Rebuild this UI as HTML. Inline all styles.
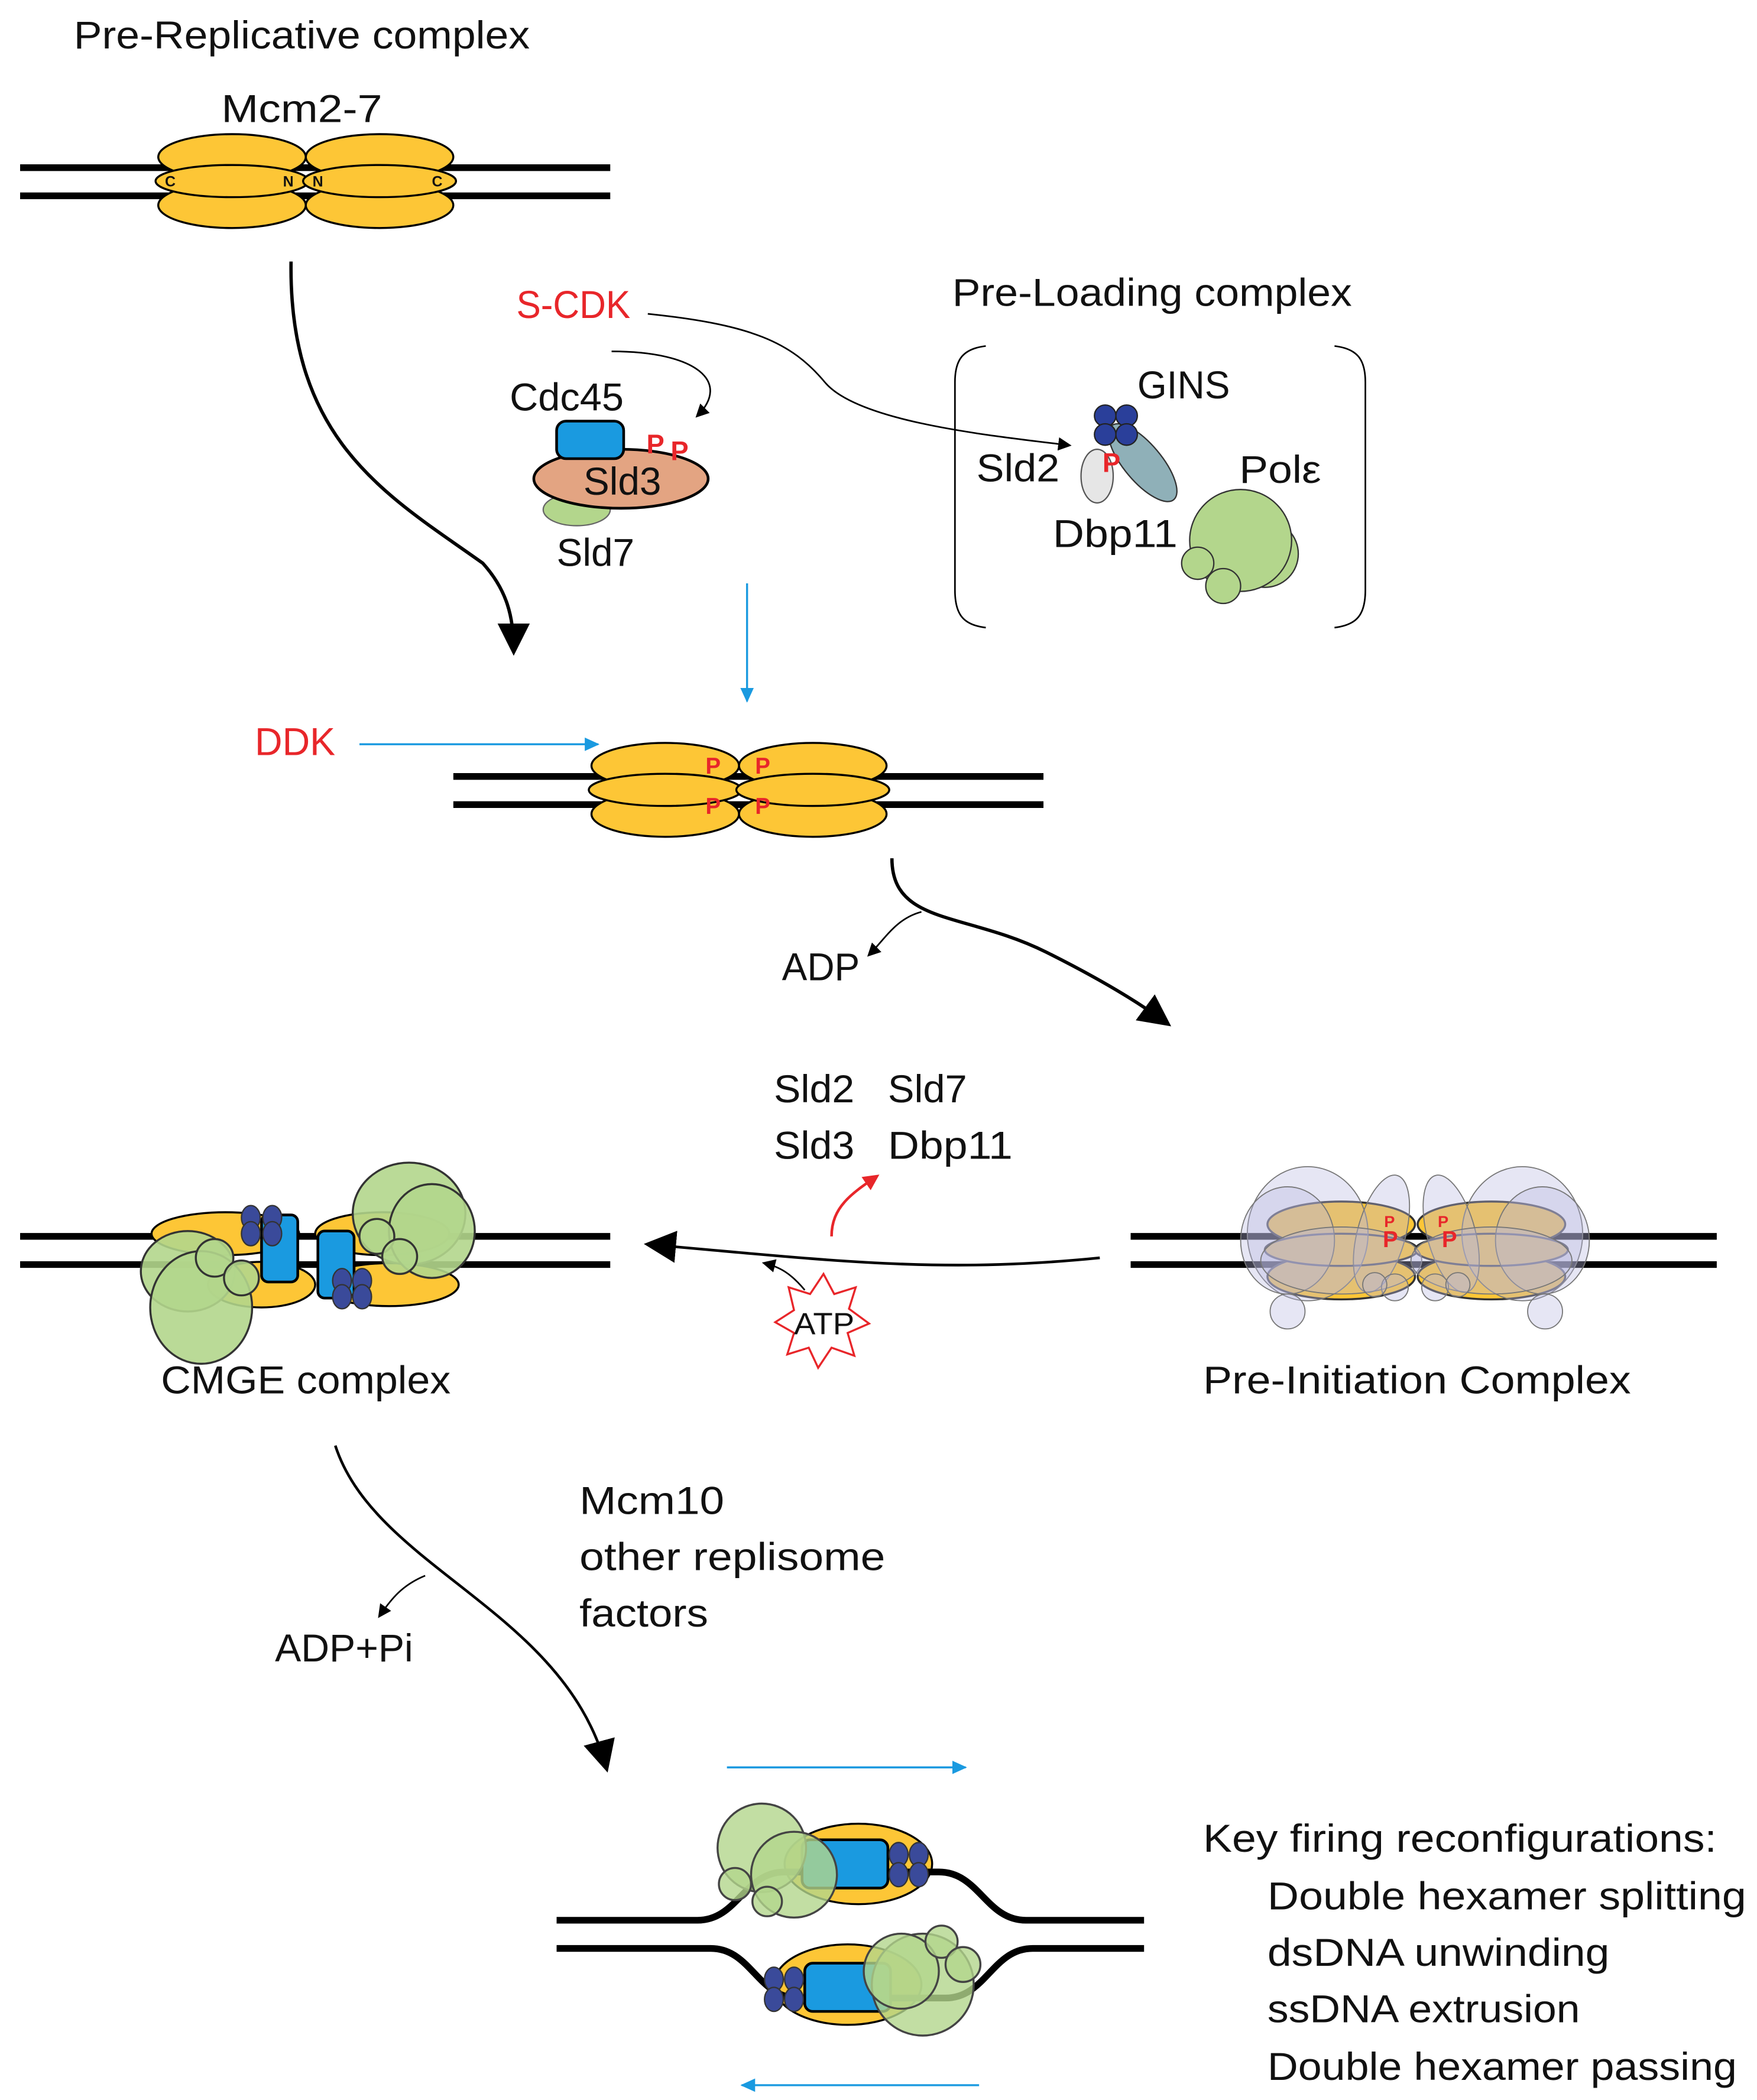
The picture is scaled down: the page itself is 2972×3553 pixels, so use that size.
<!DOCTYPE html>
<html><head><meta charset="utf-8"><style>
html,body{margin:0;padding:0;background:#fff;}
svg{display:block;}
text{font-family:"Liberation Sans",sans-serif;fill:#111;}
</style></head><body>
<svg width="2972" height="3553" viewBox="0 0 1310 1566" xmlns="http://www.w3.org/2000/svg">
<defs>
<marker id="ah" markerWidth="10" markerHeight="10" refX="8" refY="5" orient="auto" markerUnits="userSpaceOnUse"><path d="M0,0 L10,5 L0,10 z" fill="#000"/></marker>
<marker id="big" markerWidth="26" markerHeight="24" refX="20" refY="12" orient="auto" markerUnits="userSpaceOnUse"><path d="M0,0 L24,12 L0,24 z" fill="#000"/></marker>
<marker id="bl" markerWidth="12" markerHeight="12" refX="10" refY="6" orient="auto" markerUnits="userSpaceOnUse"><path d="M0,1 L11,6 L0,11 z" fill="#1a9ae0"/></marker>
<marker id="rd" markerWidth="14" markerHeight="14" refX="10" refY="7" orient="auto" markerUnits="userSpaceOnUse"><path d="M0,1 L12,7 L0,13 z" fill="#e8262a"/></marker>
</defs>
<g font-size="29">
<text x="55" y="36" textLength="340" lengthAdjust="spacingAndGlyphs">Pre-Replicative complex</text>
<text x="165" y="91" textLength="120" lengthAdjust="spacingAndGlyphs">Mcm2-7</text>
<text x="385" y="237" textLength="85" lengthAdjust="spacingAndGlyphs" style="fill:#e8262a">S-CDK</text>
<text x="710" y="228" textLength="298" lengthAdjust="spacingAndGlyphs">Pre-Loading complex</text>
<text x="848" y="297" textLength="69" lengthAdjust="spacingAndGlyphs">GINS</text>
<text x="380" y="306" textLength="85" lengthAdjust="spacingAndGlyphs">Cdc45</text>
<text x="728" y="359" textLength="62" lengthAdjust="spacingAndGlyphs">Sld2</text>
<text x="924" y="360" textLength="61" lengthAdjust="spacingAndGlyphs">Polε</text>
<text x="785" y="408" textLength="93" lengthAdjust="spacingAndGlyphs">Dbp11</text>
<text x="415" y="422" textLength="58" lengthAdjust="spacingAndGlyphs">Sld7</text>
<text x="190" y="563" textLength="60" lengthAdjust="spacingAndGlyphs" style="fill:#e8262a">DDK</text>
<text x="583" y="731" textLength="58" lengthAdjust="spacingAndGlyphs">ADP</text>
<text x="577" y="822" textLength="60" lengthAdjust="spacingAndGlyphs">Sld2</text><text x="662" y="822" textLength="59" lengthAdjust="spacingAndGlyphs">Sld7</text>
<text x="577" y="864" textLength="60" lengthAdjust="spacingAndGlyphs">Sld3</text><text x="662" y="864" textLength="93" lengthAdjust="spacingAndGlyphs">Dbp11</text>
<text x="120" y="1039" textLength="216" lengthAdjust="spacingAndGlyphs">CMGE complex</text>
<text x="897" y="1039" textLength="319" lengthAdjust="spacingAndGlyphs">Pre-Initiation Complex</text>
<text x="432" y="1129" textLength="108" lengthAdjust="spacingAndGlyphs">Mcm10</text>
<text x="432" y="1171" textLength="228" lengthAdjust="spacingAndGlyphs">other replisome</text>
<text x="432" y="1213" textLength="96" lengthAdjust="spacingAndGlyphs">factors</text>
<text x="205" y="1239" textLength="103" lengthAdjust="spacingAndGlyphs">ADP+Pi</text>
<text x="897" y="1381" textLength="383" lengthAdjust="spacingAndGlyphs">Key firing reconfigurations:</text>
<text x="945" y="1424" textLength="357" lengthAdjust="spacingAndGlyphs">Double hexamer splitting</text>
<text x="945" y="1466" textLength="255" lengthAdjust="spacingAndGlyphs">dsDNA unwinding</text>
<text x="945" y="1508" textLength="233" lengthAdjust="spacingAndGlyphs">ssDNA extrusion</text>
<text x="945" y="1551" textLength="350" lengthAdjust="spacingAndGlyphs">Double hexamer passing</text>
</g>

<g stroke="#000" stroke-width="5"><line x1="15" y1="125" x2="455" y2="125"/><line x1="15" y1="146" x2="455" y2="146"/></g>
<g fill="#fdc636" stroke="#000" stroke-width="1.5">
<ellipse cx="173" cy="117" rx="55" ry="17"/><ellipse cx="173" cy="153" rx="55" ry="17"/><ellipse cx="173" cy="135" rx="57" ry="12"/>
<ellipse cx="283" cy="117" rx="55" ry="17"/><ellipse cx="283" cy="153" rx="55" ry="17"/><ellipse cx="283" cy="135" rx="57" ry="12"/>
</g>
<g font-size="11" font-weight="bold"><text x="123" y="139">C</text><text x="211" y="139">N</text><text x="233" y="139">N</text><text x="322" y="139">C</text></g>

<path d="M217,195 C215,330 290,370 360,420 C378,440 383,460 383,485" fill="none" stroke="#000" stroke-width="2.5" marker-end="url(#big)"/>
<path d="M483,234 C560,242 590,255 615,285 C640,315 740,325 797,332" fill="none" stroke="#000" stroke-width="1.2" marker-end="url(#ah)"/>
<path d="M456,262 C520,262 545,285 520,310" fill="none" stroke="#000" stroke-width="1.2" marker-end="url(#ah)"/>

<ellipse cx="430" cy="380" rx="25" ry="12" fill="#b3d68c" stroke="#666" stroke-width="1"/>
<ellipse cx="463" cy="357" rx="65" ry="22" fill="#e3a482" stroke="#000" stroke-width="2"/>
<rect x="415" y="314" width="50" height="28" rx="7" fill="#1a9ae0" stroke="#000" stroke-width="2"/>
<text x="435" y="369" font-size="29" textLength="58" lengthAdjust="spacingAndGlyphs">Sld3</text>
<text x="482" y="338" font-size="20" font-weight="bold" style="fill:#e8262a">P</text>
<text x="500" y="343" font-size="20" font-weight="bold" style="fill:#e8262a">P</text>

<path d="M735,258 C718,260 712,268 712,285 L712,440 C712,458 718,466 735,468" fill="none" stroke="#000" stroke-width="1.2"/>
<path d="M995,258 C1012,260 1018,268 1018,285 L1018,440 C1018,458 1012,466 995,468" fill="none" stroke="#000" stroke-width="1.2"/>
<ellipse cx="818" cy="355" rx="12" ry="20" fill="#e6e6e6" stroke="#555"/>
<ellipse cx="852" cy="345" rx="14" ry="36" transform="rotate(-40 852 345)" fill="#8fb0b8" stroke="#333"/>
<g fill="#2a3f9a" stroke="#222"><circle cx="824" cy="310" r="8"/><circle cx="840" cy="310" r="8"/><circle cx="824" cy="324" r="8"/><circle cx="840" cy="324" r="8"/></g>
<text x="822" y="352" font-size="20" font-weight="bold" style="fill:#e8262a">P</text>
<g fill="#b3d68c" stroke="#333"><circle cx="943" cy="413" r="25"/><circle cx="925" cy="403" r="38"/><circle cx="893" cy="420" r="12"/><circle cx="912" cy="437" r="13"/></g>

<line x1="557" y1="435" x2="557" y2="523" stroke="#1a9ae0" stroke-width="1.5" marker-end="url(#bl)"/>
<line x1="268" y1="555" x2="446" y2="555" stroke="#1a9ae0" stroke-width="1.5" marker-end="url(#bl)"/>

<g stroke="#000" stroke-width="5"><line x1="338" y1="579" x2="778" y2="579"/><line x1="338" y1="600" x2="778" y2="600"/></g>
<g fill="#fdc636" stroke="#000" stroke-width="1.5">
<ellipse cx="496" cy="571" rx="55" ry="17"/><ellipse cx="496" cy="607" rx="55" ry="17"/><ellipse cx="496" cy="589" rx="57" ry="12"/>
<ellipse cx="606" cy="571" rx="55" ry="17"/><ellipse cx="606" cy="607" rx="55" ry="17"/><ellipse cx="606" cy="589" rx="57" ry="12"/>
</g>
<g font-size="17" font-weight="bold"><text x="526" y="577" style="fill:#e8262a">P</text><text x="563" y="577" style="fill:#e8262a">P</text><text x="526" y="607" style="fill:#e8262a">P</text><text x="563" y="607" style="fill:#e8262a">P</text></g>

<path d="M665,640 C665,690 720,680 780,710 C830,735 855,752 870,763" fill="none" stroke="#000" stroke-width="2.5" marker-end="url(#big)"/>
<path d="M687,680 C668,685 660,700 648,712" fill="none" stroke="#000" stroke-width="1.2" marker-end="url(#ah)"/>

<g stroke="#000" stroke-width="5"><line x1="843" y1="922" x2="1280" y2="922"/><line x1="843" y1="943" x2="1280" y2="943"/></g>
<g fill="#fdc636" stroke="#333" stroke-width="1.5">
<ellipse cx="1000" cy="913" rx="55" ry="17"/><ellipse cx="1000" cy="952" rx="55" ry="17"/><ellipse cx="1000" cy="932" rx="57" ry="12"/>
<ellipse cx="1112" cy="913" rx="55" ry="17"/><ellipse cx="1112" cy="952" rx="55" ry="17"/><ellipse cx="1112" cy="932" rx="57" ry="12"/>
</g>
<g fill="#b8b8e0" fill-opacity="0.35" stroke="#777" stroke-width="0.8">
<ellipse cx="975" cy="920" rx="45" ry="50"/><ellipse cx="1135" cy="920" rx="45" ry="50"/>
<ellipse cx="960" cy="925" rx="35" ry="40"/><ellipse cx="1150" cy="925" rx="35" ry="40"/>
<ellipse cx="1030" cy="920" rx="18" ry="45" transform="rotate(15 1030 920)"/><ellipse cx="1082" cy="920" rx="18" ry="45" transform="rotate(-15 1082 920)"/>
<ellipse cx="1000" cy="940" rx="60" ry="25"/><ellipse cx="1112" cy="940" rx="60" ry="25"/>
<circle cx="960" cy="978" r="13"/><circle cx="1152" cy="978" r="13"/>
<circle cx="1040" cy="960" r="10"/><circle cx="1070" cy="960" r="10"/><circle cx="1025" cy="958" r="9"/><circle cx="1087" cy="958" r="9"/>
</g>
<g font-size="17" font-weight="bold"><text x="1031" y="930" style="fill:#e8262a">P</text><text x="1075" y="930" style="fill:#e8262a">P</text><text x="1032" y="915" font-size="12" style="fill:#e8262a">P</text><text x="1072" y="915" font-size="12" style="fill:#e8262a">P</text></g>

<path d="M820,938 C700,950 620,940 484,928" fill="none" stroke="#000" stroke-width="2" marker-end="url(#big)"/>
<path d="M600,962 C590,950 582,945 570,942" fill="none" stroke="#000" stroke-width="1.2" marker-end="url(#ah)"/>
<path d="M620,922 C620,900 635,890 654,877" fill="none" stroke="#e8262a" stroke-width="2" marker-end="url(#rd)"/>
<polygon points="614,950 622,965 638,960 633,976 648,987 632,994 637,1011 620,1005 610,1020 603,1005 587,1010 592,994 578,986 592,977 588,960 604,965" fill="#fff" stroke="#e8262a" stroke-width="1.5"/>
<text x="592" y="995" font-size="23" textLength="45" lengthAdjust="spacingAndGlyphs">ATP</text>

<g stroke="#000" stroke-width="5"><line x1="15" y1="922" x2="455" y2="922"/><line x1="15" y1="943" x2="455" y2="943"/></g>
<g fill="#fdc636" stroke="#000" stroke-width="1.5">
<ellipse cx="168" cy="920" rx="55" ry="16"/><ellipse cx="195" cy="958" rx="40" ry="17"/>
<ellipse cx="285" cy="920" rx="50" ry="16"/><ellipse cx="290" cy="958" rx="52" ry="16"/>
</g>
<g fill="#b3d68c" fill-opacity="0.9" stroke="#333" stroke-width="1.5">
<ellipse cx="140" cy="948" rx="35" ry="30"/><ellipse cx="150" cy="975" rx="38" ry="42"/><circle cx="160" cy="938" r="14"/><circle cx="180" cy="953" r="13"/>
<ellipse cx="305" cy="905" rx="42" ry="38"/><ellipse cx="322" cy="918" rx="32" ry="35"/><circle cx="281" cy="922" r="13"/><circle cx="298" cy="937" r="13"/>
</g>
<rect x="195" y="906" width="27" height="50" rx="5" fill="#1a9ae0" stroke="#000" stroke-width="2"/>
<rect x="237" y="918" width="27" height="50" rx="5" fill="#1a9ae0" stroke="#000" stroke-width="2"/>
<g fill="#3a4a9a" stroke="#333"><ellipse cx="187" cy="908" rx="7" ry="9"/><ellipse cx="203" cy="908" rx="7" ry="9"/><ellipse cx="187" cy="920" rx="7" ry="9"/><ellipse cx="203" cy="920" rx="7" ry="9"/>
<ellipse cx="255" cy="955" rx="7" ry="9"/><ellipse cx="270" cy="955" rx="7" ry="9"/><ellipse cx="255" cy="967" rx="7" ry="9"/><ellipse cx="270" cy="967" rx="7" ry="9"/></g>

<path d="M250,1078 C280,1170 420,1200 452,1318" fill="none" stroke="#000" stroke-width="2" marker-end="url(#big)"/>
<path d="M317,1175 C300,1182 292,1192 283,1205" fill="none" stroke="#000" stroke-width="1.2" marker-end="url(#ah)"/>
<line x1="542" y1="1318" x2="720" y2="1318" stroke="#1a9ae0" stroke-width="1.5" marker-end="url(#bl)"/>
<line x1="730" y1="1555" x2="553" y2="1555" stroke="#1a9ae0" stroke-width="1.5" marker-end="url(#bl)"/>

<g fill="#fdc636" stroke="#000" stroke-width="1.5"><ellipse cx="640" cy="1390" rx="55" ry="30"/><ellipse cx="632" cy="1480" rx="55" ry="30"/></g>
<g fill="none" stroke="#000" stroke-width="5">
<path d="M415,1432 L520,1432 C550,1432 555,1396 585,1396 L700,1396 C730,1396 735,1432 765,1432 L853,1432"/>
<path d="M415,1453 L530,1453 C560,1453 565,1490 595,1490 L705,1490 C735,1490 740,1453 770,1453 L853,1453"/>
</g>
<rect x="598" y="1372" width="64" height="36" rx="6" fill="#1a9ae0" stroke="#000" stroke-width="2"/>
<rect x="600" y="1464" width="64" height="36" rx="6" fill="#1a9ae0" stroke="#000" stroke-width="2"/>
<g fill="#3a4a9a" stroke="#333"><ellipse cx="670" cy="1383" rx="7" ry="9"/><ellipse cx="685" cy="1383" rx="7" ry="9"/><ellipse cx="670" cy="1398" rx="7" ry="9"/><ellipse cx="685" cy="1398" rx="7" ry="9"/>
<ellipse cx="577" cy="1476" rx="7" ry="9"/><ellipse cx="592" cy="1476" rx="7" ry="9"/><ellipse cx="577" cy="1491" rx="7" ry="9"/><ellipse cx="592" cy="1491" rx="7" ry="9"/></g>
<g fill="#b3d68c" fill-opacity="0.8" stroke="#444" stroke-width="1.5">
<circle cx="568" cy="1378" r="33"/><circle cx="592" cy="1398" r="32"/><circle cx="548" cy="1405" r="12"/><circle cx="572" cy="1418" r="11"/>
<circle cx="688" cy="1480" r="38"/><circle cx="672" cy="1470" r="28"/><circle cx="702" cy="1448" r="12"/><circle cx="718" cy="1465" r="13"/>
</g>
</svg>
</body></html>
